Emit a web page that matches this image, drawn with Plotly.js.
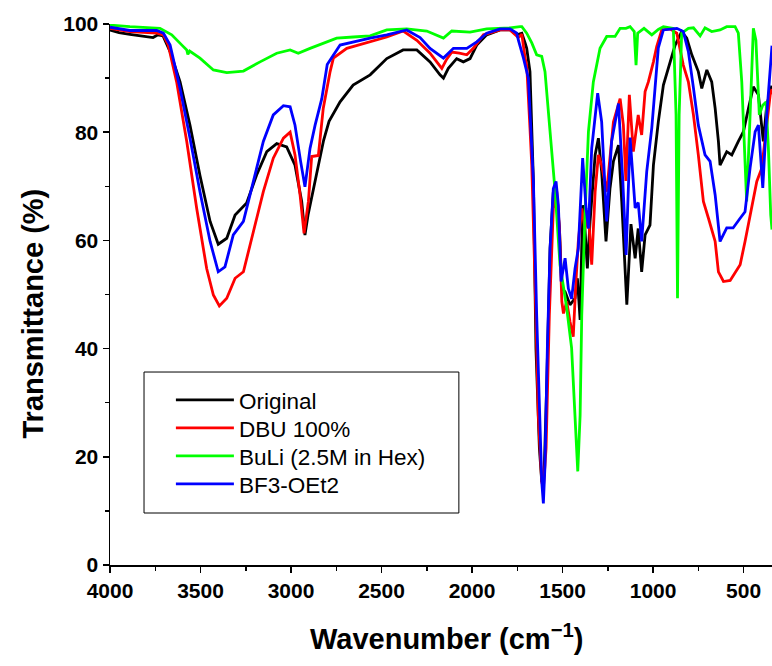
<!DOCTYPE html>
<html>
<head>
<meta charset="utf-8">
<script src="https://cdn.plot.ly/plotly-3.0.1.min.js"></script>
<style>html,body{margin:0;padding:0;background:#fff;}#chart{width:772px;height:666px;}</style>
</head>
<body>
<div id="chart"></div>
<script>
// Series names
var seriesNames = ["Original", "DBU 100%", "BuLi (2.5M in Hex)", "BF3-OEt2"];

// Original (black)
var wnOriginal = [4000,3950,3890,3818,3762,3735,3707,3668,3613,3558,3503,3447,3402,3355,3309,3245,3190,3134,3079,3024,2978,2941,2923,2906,2858,2820,2790,2729,2657,2563,2471,2381,2305,2232,2177,2158,2131,2085,2048,2011,1974,1919,1845,1790,1753,1725,1707,1698,1680,1661,1647,1628,1615,1602,1587,1569,1551,1532,1517,1504,1486,1459,1431,1418,1403,1389,1376,1363,1348,1320,1302,1284,1260,1238,1219,1191,1173,1155,1145,1122,1099,1082,1063,1044,1017,998,971,943,906,878,842,814,786,750,731,703,676,657,639,630,593,565,529,501,473,446,418,391,372,344];
var tOriginal = [98.9,98.4,98.1,97.7,97.5,98.0,97.8,94.9,89.3,81.3,72.0,63.5,59.3,60.4,64.7,66.9,72.1,76.4,77.9,77.3,73.9,67.2,61.0,64.7,72.7,78.5,82.0,85.6,88.7,90.6,93.6,95.2,95.2,93.0,90.6,90.0,91.8,93.6,93.0,93.6,96.1,98.0,98.9,98.9,98.0,98.3,96.5,95.5,91.2,70.9,40.0,21.6,15.4,16.6,33.9,58.5,69.0,68.0,62.0,51.1,50.5,48.1,49.3,53.0,45.3,66.5,62.0,54.8,63.5,75.8,78.9,72.7,59.8,69.6,74.6,77.6,67.2,53.6,48.1,63.0,56.7,62.2,54.2,61.0,62.8,73.9,81.9,88.7,93.0,96.1,98.6,97.4,94.3,91.2,88.1,91.5,89.3,84.4,78.3,73.9,76.4,75.8,78.3,80.1,84.4,88.4,86.9,78.3,85.0,88.6];

// DBU 100% (red)
var wnDBU = [4000,3890,3742,3705,3678,3632,3576,3521,3466,3429,3396,3355,3309,3263,3208,3153,3098,3042,3005,2978,2950,2928,2904,2886,2849,2822,2784,2766,2692,2600,2471,2380,2305,2232,2167,2140,2112,2070,2029,1993,1937,1845,1790,1744,1725,1707,1698,1680,1670,1647,1634,1615,1606,1591,1573,1551,1532,1517,1504,1495,1477,1459,1441,1426,1413,1394,1376,1357,1339,1320,1302,1284,1256,1219,1182,1164,1150,1131,1109,1082,1063,1044,1026,998,980,952,906,869,833,805,777,750,722,694,657,639,611,574,519,492,455,427,400,372,353,343];
var tDBU = [99.2,98.6,98.3,98.0,96.1,89.3,78.3,65.9,54.8,49.9,47.9,49.3,53.0,54.2,61.6,69.0,75.2,78.9,80.0,75.8,68.4,61.3,67.2,75.5,75.7,84.4,91.2,93.7,95.5,96.4,97.6,98.7,97.0,94.6,91.8,93.5,94.8,94.6,94.3,95.5,98.0,98.9,98.9,97.5,98.1,93.7,92.4,80.8,73.9,46.2,27.7,15.4,14.2,21.6,46.2,65.9,69.0,62.2,48.7,46.5,48.7,45.0,42.2,52.4,59.8,65.9,62.2,64.7,55.5,69.0,75.8,73.9,69.0,81.9,86.2,81.3,71.0,86.9,76.4,83.2,79.5,87.5,89.3,93.0,95.8,98.9,99.1,98.3,92.4,89.3,83.2,75.8,67.2,64.1,59.8,54.2,52.4,52.6,55.5,59.8,65.9,70.9,73.3,81.3,86.9,88.0];

// BuLi (green)
var wnBuLi = [4000,3890,3724,3659,3600,3576,3570,3560,3503,3429,3355,3263,3171,3079,3005,2960,2895,2803,2748,2656,2563,2471,2361,2250,2158,2112,2011,1919,1845,1790,1735,1725,1698,1670,1643,1615,1597,1569,1541,1514,1477,1450,1431,1416,1403,1394,1376,1357,1330,1293,1256,1210,1182,1150,1127,1104,1094,1085,1050,1007,971,943,888,873,865,856,842,805,777,750,740,713,676,630,593,547,529,510,492,483,464,446,432,413,394,376,363,350,343];
var tBuLi = [99.8,99.5,99.2,98.0,96.0,95.2,94.4,95.0,93.7,91.5,91.0,91.3,93.0,94.6,95.2,94.6,95.5,96.7,97.4,97.6,97.8,98.9,99.1,98.7,97.4,98.7,98.5,99.1,99.2,99.3,99.5,99.5,98.3,96.5,94.3,94.0,91.2,80.1,69.0,55.5,47.5,40.1,27.7,17.3,27.7,46.2,64.7,80.1,89.3,95.5,97.7,97.7,99.2,99.2,99.5,98.6,92.4,98.3,99.2,98.0,99.0,99.5,99.2,83.2,49.3,83.2,98.3,99.2,99.3,98.3,97.8,99.3,98.6,98.9,99.5,99.5,98.3,89.3,73.9,67.2,83.2,99.2,97.0,83.2,85.0,85.6,77.1,64.7,62.0];

// BF3-OEt2 (blue)
var wnBF3 = [4000,3890,3742,3705,3668,3613,3558,3503,3447,3402,3365,3319,3263,3208,3153,3098,3042,3005,2978,2947,2923,2895,2867,2830,2800,2729,2656,2563,2471,2361,2287,2232,2158,2103,2029,1974,1919,1845,1790,1753,1744,1716,1689,1661,1643,1628,1615,1606,1597,1584,1569,1551,1536,1523,1508,1486,1468,1450,1431,1413,1389,1370,1357,1339,1306,1284,1256,1229,1191,1167,1149,1127,1109,1099,1082,1063,1035,1007,989,971,943,869,833,805,777,750,713,685,657,630,593,558,519,492,464,436,418,394,372,350,343];
var tBF3 = [99.4,98.8,98.8,98.3,96.1,88.1,78.9,69.0,59.8,54.2,55.1,61.0,63.5,70.9,78.3,83.2,84.9,84.7,81.3,74.6,69.9,77.0,81.3,86.2,92.5,96.1,96.7,97.4,98.0,98.9,97.5,95.5,93.7,95.5,95.5,96.7,98.3,99.1,99.1,98.3,97.0,93.7,90.0,70.9,46.2,27.7,15.4,11.4,18.5,40.0,58.5,69.6,70.9,66.5,52.4,56.7,51.1,49.2,54.8,58.5,75.2,65.9,62.2,77.0,87.2,81.9,63.5,78.3,85.3,70.9,57.3,79.0,70.9,66.0,67.0,59.8,72.7,80.8,88.2,95.6,98.9,99.2,98.6,94.9,88.2,81.3,75.8,74.6,68.4,59.8,62.3,62.3,64.1,65.3,73.4,80.1,81.3,69.7,83.2,93.7,96.0];

// Axis ticks and titles
var xTicks = [4000,3500,3000,2500,2000,1500,1000,500];
var yTicks = [0,20,40,60,80,100];
var xTitle = "Wavenumber (cm<sup>−1</sup>)";
var yTitle = "Transmittance (%)";

var colors = ["#000000", "#ff0000", "#00ff00", "#0000ff"];
var xs = [wnOriginal, wnDBU, wnBuLi, wnBF3];
var ys = [tOriginal, tDBU, tBuLi, tBF3];
var legendIds = ["legend", "legend2", "legend3", "legend4"];

var FONT = "Arial, 'Liberation Sans', sans-serif";
var traces = seriesNames.map(function(n, i){
  return {x: xs[i], y: ys[i], name: n, type: "scatter", mode: "lines",
          legend: legendIds[i],
          line: {color: colors[i], width: 2.8}};
});

var layout = {
  width: 772, height: 666,
  margin: {l: 110, r: 0, t: 24, b: 101, pad: 0},
  paper_bgcolor: "#fff", plot_bgcolor: "#fff",
  showlegend: true,
  xaxis: {range: [4000, 343], tickvals: xTicks, ticktext: xTicks.map(String),
          ticks: "outside", ticklen: 6, tickwidth: 1.5, tickcolor: "#000",
          showline: true, linecolor: "#000", linewidth: 1.5,
          showgrid: false, zeroline: false,
          minor: {dtick: 250, tick0: 0, ticks: "outside", ticklen: 4, tickwidth: 1.5, tickcolor: "#000", showgrid: false},
          tickfont: {family: FONT, size: 21, color: "#000", weight: 700}},
  yaxis: {range: [0, 100], tickvals: yTicks,
          ticks: "outside", ticklen: 6, tickwidth: 1.5, tickcolor: "#000",
          showline: true, linecolor: "#000", linewidth: 1.5,
          showgrid: false, zeroline: false,
          minor: {dtick: 10, ticks: "outside", ticklen: 4, tickwidth: 1.5, tickcolor: "#000", showgrid: false},
          tickfont: {family: FONT, size: 21, color: "#000", weight: 700}},
  annotations: [
    {text: xTitle, xref: "paper", yref: "paper", x: 0.508, y: -0.133,
     xanchor: "center", yanchor: "middle", showarrow: false,
     font: {family: FONT, size: 29, color: "#000", weight: 700}},
    {text: yTitle, xref: "paper", yref: "paper", x: -0.117, y: 0.464,
     xanchor: "center", yanchor: "middle", textangle: -90, showarrow: false,
     font: {family: FONT, size: 29, color: "#000", weight: 700}}
  ],
  shapes: [{type: "rect", xref: "paper", yref: "paper",
            x0: 0.0514, x1: 0.527, y0: 0.0961, y1: 0.3567,
            line: {color: "#000", width: 1}, fillcolor: "rgba(0,0,0,0)"}]
};

var legendTops = [0.3444, 0.2926, 0.2409, 0.1891];
legendIds.forEach(function(id, i){
  layout[id] = {x: 0.092, y: legendTops[i], xanchor: "left", yanchor: "top",
                bgcolor: "rgba(0,0,0,0)", borderwidth: 0,
                font: {family: FONT, size: 22.5, color: "#000"}, itemwidth: 58};
});

Plotly.newPlot("chart", traces, layout, {displayModeBar: false, staticPlot: true});
</script>
</body>
</html>
